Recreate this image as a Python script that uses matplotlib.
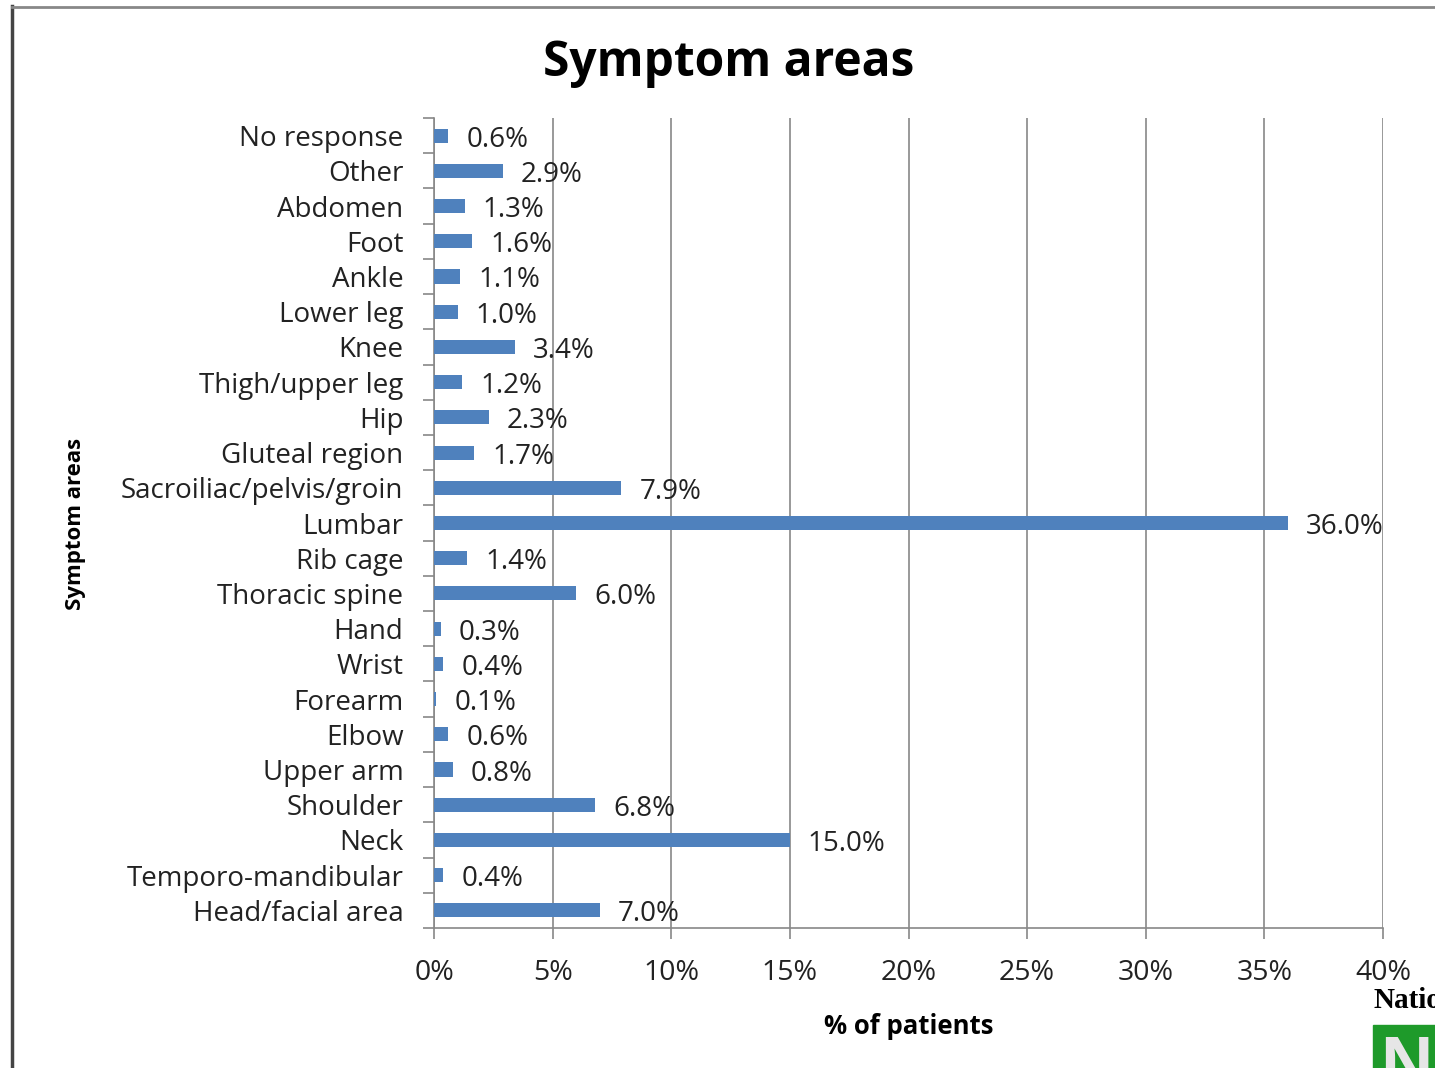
import matplotlib
matplotlib.use("Agg")
import matplotlib.pyplot as plt
from matplotlib.patches import Rectangle
from matplotlib.lines import Line2D
import matplotlib.transforms as mtransforms

categories = ["Head/facial area", "Temporo-mandibular", "Neck", "Shoulder", "Upper arm",
              "Elbow", "Forearm", "Wrist", "Hand", "Thoracic spine", "Rib cage", "Lumbar",
              "Sacroiliac/pelvis/groin", "Gluteal region", "Hip", "Thigh/upper leg", "Knee",
              "Lower leg", "Ankle", "Foot", "Abdomen", "Other", "No response"]
values = [7.0, 0.4, 15.0, 6.8, 0.8, 0.6, 0.1, 0.4, 0.3, 6.0, 1.4, 36.0, 7.9, 1.7, 2.3,
          1.2, 3.4, 1.0, 1.1, 1.6, 1.3, 2.9, 0.6]
xticks = [0, 5, 10, 15, 20, 25, 30, 35, 40]

FONT = "Open Sans"
LBL = 20

W, H = 1435, 1068
fig = plt.figure(figsize=(W / 100, H / 100), dpi=100)
ax = fig.add_axes([434 / W, 1 - 928 / H, (1383 - 434) / W, (928 - 118) / H])

y = list(range(len(categories)))
ax.barh(y, values, height=0.4, color="#4F81BD", zorder=3)
ax.set_ylim(-0.5, len(categories) - 0.5)
ax.set_xlim(0, 40)
ax.set_xticks(xticks)
ax.set_xticklabels([f"{t}%" for t in xticks], fontsize=20.5, color="#222222", family=FONT)
ax.set_yticks(y)
ax.set_yticklabels(categories, fontsize=LBL, color="#222222", family=FONT)
ax.set_yticks([i - 0.5 for i in range(len(categories) + 1)], minor=True)
ax.tick_params(axis="y", which="major", length=0, pad=22)
ax.tick_params(axis="y", which="minor", length=8, color="#888888", width=1.2)
ax.tick_params(axis="x", length=8, color="#888888", width=1.2, pad=14)
ax.grid(axis="x", color="#888888", linewidth=1.2, zorder=0)
for s in ["top", "right"]:
    ax.spines[s].set_visible(False)
for s in ["left", "bottom"]:
    ax.spines[s].set_color("#888888")
    ax.spines[s].set_linewidth(1.2)

off = mtransforms.offset_copy(ax.transData, fig=fig, x=18, y=-4, units="dots")
for yi, v in zip(y, values):
    ax.text(v, yi, f"{v:.1f}%", transform=off, va="center", ha="left",
            fontsize=LBL, color="#222222", family=FONT, zorder=4)

fig.text(729 / W, 1 - 64 / H, "Symptom areas", ha="center", va="center",
         fontsize=34.5, fontweight="bold", family=FONT)
fig.text(75 / W, 1 - 524 / H, "Symptom areas", ha="center", va="center", rotation=90,
         fontsize=16, fontweight="bold", family=FONT)
fig.text(909 / W, 1 - 1026 / H, "% of patients", ha="center", va="center",
         fontsize=18.5, fontweight="bold", family=FONT)

# frame borders
fig.add_artist(Line2D([11.5 / W, 11.5 / W], [0, 1 - 6 / H], color="#444444", linewidth=2.5))
fig.add_artist(Line2D([11.5 / W, 1], [1 - 7 / H, 1 - 7 / H], color="#888888", linewidth=2))

# logo fragment
fig.text(1373 / W, 1 - 1001 / H, "Natio", ha="left", va="center", fontsize=21,
         fontweight="bold", family="Liberation Serif")
fig.add_artist(Rectangle((1373 / W, 0), (W - 1373) / W, (1068 - 1025) / H,
                         transform=fig.transFigure, color="#1E9A2A"))
fig.text(1380 / W, 1 - 1034 / H, "N", ha="left", va="top", fontsize=52,
         fontweight="bold", color="#E6E6E6", family="Liberation Sans")

fig.savefig("out.png", dpi=100)
